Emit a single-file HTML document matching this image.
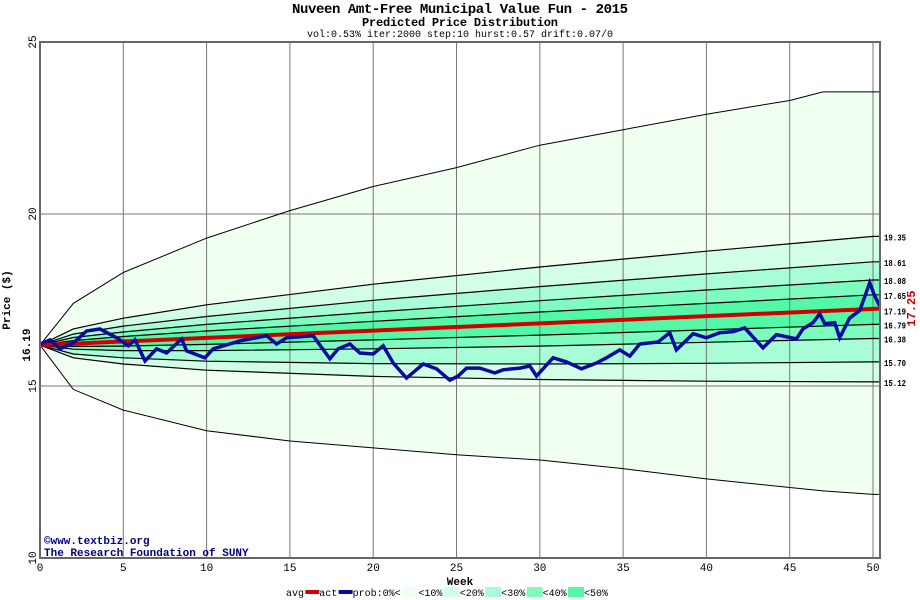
<!DOCTYPE html>
<html><head><meta charset="utf-8"><style>
body{margin:0;background:#fff;width:920px;height:600px;overflow:hidden}
svg{display:block;font-family:"Liberation Mono","DejaVu Sans Mono",monospace}
</style></head><body>
<svg id="chart" width="920" height="600">
<text x="460" y="13" text-anchor="middle" font-size="14" font-weight="bold" textLength="336">Nuveen Amt-Free Municipal Value Fun - 2015</text>
<text x="460" y="26" text-anchor="middle" font-size="12" font-weight="bold" textLength="196">Predicted Price Distribution</text>
<text x="460" y="37" text-anchor="middle" font-size="10" textLength="306">vol:0.53% iter:2000 step:10 hurst:0.57 drift:0.07/0</text>
<g id="plot"></g>
<text x="10" y="300" transform="rotate(-90 10 300)" text-anchor="middle" font-size="11" font-weight="bold">Price ($)</text>
<text x="460" y="585" text-anchor="middle" font-size="11" font-weight="bold">Week</text>
<text x="44" y="544" font-size="11" font-weight="bold" fill="#000080">©www.textbiz.org</text>
<text x="44" y="556" font-size="11" font-weight="bold" fill="#000080">The Research Foundation of SUNY</text>
<g id="legend" font-size="10"></g>
</svg>
<script>
const weeks=[0,2,5,10,15,20,25,30,35,40,45,47,50,50.4];
const outerTop=[16.19,17.4,18.3,19.3,20.1,20.8,21.35,22.0,22.45,22.9,23.3,23.55,23.55,23.55];
const outerBot=[16.19,14.9,14.3,13.7,13.4,13.2,13.0,12.85,12.6,12.3,12.05,11.95,11.85,11.85];
const innerWeeks=[0,2,5,10,20,30,40,50,50.4];
const l1935=[16.19,16.66,16.97,17.36,17.96,18.46,18.92,19.35,19.35];
const l1861=[16.19,16.51,16.74,17.02,17.49,17.89,18.26,18.61,18.61];
const l1808=[16.19,16.41,16.57,16.79,17.15,17.48,17.79,18.08,18.08];
const l1765=[16.19,16.32,16.44,16.60,16.88,17.15,17.40,17.65,17.65];
const l1679=[16.19,16.15,16.16,16.21,16.34,16.48,16.63,16.79,16.79];
const l1638=[16.19,16.07,16.03,16.03,16.08,16.16,16.27,16.38,16.38];
const l1570=[16.19,15.93,15.82,15.72,15.65,15.64,15.66,15.70,15.70];
const l1512=[16.19,15.82,15.64,15.46,15.28,15.19,15.14,15.12,15.12];
const endLabels=["19.35","18.61","18.08","17.65","17.19","16.79","16.38","15.70","15.12"];
const endValues=[19.35,18.61,18.08,17.65,17.19,16.79,16.38,15.70,15.12];
const avgWeeks=[0,50.4];
const avgValues=[16.19,17.25];
const actWeeks=[0,0.6,1.2,2,2.8,3.6,4.6,5.3,5.7,6.3,7,7.6,8.5,8.8,9.9,10.4,12,13.6,14.2,14.8,16.4,17.4,17.9,18.6,19.2,20,20.6,21.2,22,23,23.8,24.6,25.1,25.6,26.4,27.3,27.8,28.8,29.4,29.8,30.8,31.6,32.5,33.4,34,34.8,35.4,36,37.1,37.8,38.2,39.2,40,40.8,41.6,42.3,43.4,44.2,45.4,45.8,46.4,46.8,47.1,47.7,48,48.6,49.2,49.8,50.1,50.4];
const actValues=[16.22,16.34,16.08,16.25,16.6,16.66,16.4,16.17,16.34,15.73,16.08,15.96,16.37,16.02,15.82,16.08,16.31,16.46,16.22,16.4,16.46,15.79,16.08,16.22,15.96,15.93,16.17,15.67,15.23,15.64,15.5,15.17,15.29,15.52,15.52,15.38,15.47,15.52,15.58,15.29,15.82,15.7,15.5,15.67,15.82,16.05,15.87,16.22,16.28,16.55,16.05,16.52,16.4,16.55,16.58,16.69,16.11,16.49,16.37,16.66,16.84,17.1,16.81,16.84,16.4,16.98,17.19,18.0,17.62,17.33];
const xTicks=[0,5,10,15,20,25,30,35,40,45,50];
const yTicks=[10,15,20,25];

const X0=40,X1=880,Y0=42;
const xs=w=>X0+w*16.66;
const ys=v=>Y0+(25-v)*34.4;
const Y1=ys(10);
const NS="http://www.w3.org/2000/svg";
const plot=document.getElementById('plot');
function mk(tag,attrs,parent){const e=document.createElementNS(NS,tag);for(const k in attrs)e.setAttribute(k,attrs[k]);(parent||plot).appendChild(e);return e;}
function pts(ws,vs){return ws.map((w,i)=>xs(w).toFixed(1)+','+ys(vs[i]).toFixed(1));}
function band(ws,top,bot,fill,name){
  const p=pts(ws,top).concat(pts(ws,bot).reverse());
  const e=mk('polygon',{points:p.join(' '),fill:fill});
  
  
}
let bg=mk('rect',{x:X0,y:Y0,width:X1-X0,height:Y1-Y0,fill:'#ffffff'});


band(weeks,outerTop,outerBot,'#f0fff0','band-0pct');
band(innerWeeks,l1935,l1512,'#d2fde6','band-10pct');
band(innerWeeks,l1861,l1570,'#a8fcd6','band-20pct');
band(innerWeeks,l1808,l1638,'#7efcc0','band-30pct');
band(innerWeeks,l1765,l1679,'#52f8a6','band-40pct');
xTicks.forEach(t=>{
  const g=mk('line',{x1:xs(t),x2:xs(t),y1:Y0,y2:Y1,stroke:'#777','stroke-width':1});
  
  
  const l=mk('text',{x:xs(t),y:Y1+13,'text-anchor':'middle','font-size':11});
  l.textContent=t;
  
  
});
yTicks.forEach(t=>{
  const g=mk('line',{x1:X0,x2:X1,y1:ys(t),y2:ys(t),stroke:'#777','stroke-width':1});
  
  
  const l=mk('text',{x:36,y:ys(t),'text-anchor':'middle','font-size':11,transform:`rotate(-90 36 ${ys(t)})`});
  l.textContent=t;
  
  
});
[outerTop,outerBot].forEach(arr=>{
  const e=mk('polyline',{points:pts(weeks,arr).join(' '),fill:'none',stroke:'#000','stroke-width':1});
  
  
});
[l1935,l1861,l1808,l1765,l1679,l1638,l1570,l1512].forEach(arr=>{
  const e=mk('polyline',{points:pts(innerWeeks,arr).join(' '),fill:'none',stroke:'#000','stroke-width':1.2});
  
  
});
const avg=mk('polyline',{points:pts(avgWeeks,avgValues).join(' '),fill:'none',stroke:'#d00000','stroke-width':4});


const act=mk('polyline',{points:pts(actWeeks,actValues).join(' '),fill:'none',stroke:'#0a0aa0','stroke-width':3.5,'stroke-linejoin':'miter'});


const fr=mk('rect',{x:X0,y:Y0,width:X1-X0,height:Y1-Y0,fill:'none',stroke:'#666','stroke-width':2});


endLabels.forEach((s,i)=>{
  const t=mk('text',{x:884,y:ys(endValues[i])+4,'font-size':9,'font-weight':'bold',textLength:22,lengthAdjust:'spacingAndGlyphs'});
  t.textContent=s;
  
  
});
const sl=mk('text',{x:30,y:ys(16.19),'text-anchor':'middle','font-size':11,'font-weight':'bold',transform:`rotate(-90 30 ${ys(16.19)})`});
sl.textContent='16.19';


const el=mk('text',{x:915,y:ys(17.25),'text-anchor':'middle','font-size':12,'font-weight':'bold',fill:'#cc0000',transform:`rotate(-90 915 ${ys(17.25)})`});
el.textContent='17.25';


const lg=document.getElementById('legend');
const items=[['avg',null],['',"#d00000"],['act',null],['',"#0a0aa0"],['prob:0%<',null],['','#f0fff0'],['<10%',null],['','#d2fde6'],['<20%',null],['','#a8fcd6'],['<30%',null],['','#7efcc0'],['<40%',null],['','#52f8a6'],['<50%',null]];
let lx=286;
items.forEach(it=>{
  if(it[1]){
    const line=(it[1]==='#d00000'||it[1]==='#0a0aa0');
    const r=mk('rect',{x:lx,y:line?590:587,width:line?14:16,height:line?4:10,fill:it[1]},lg);
    
    
    lx+=line?14:16;
  }else{
    const t=mk('text',{x:lx,y:596},lg);
    t.textContent=it[0];
    
    
    lx+=it[0].length*6.1+1;
  }
});
</script>
</body></html>
